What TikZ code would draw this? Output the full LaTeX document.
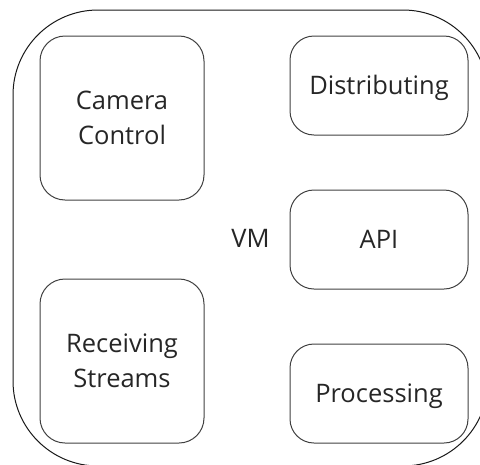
\documentclass[tikz,border=0pt]{standalone}
\usepackage{fontspec}
\setmainfont{Open Sans}
\begin{document}
\begin{tikzpicture}[x=1pt,y=-1pt,
  every node/.style={font=\fontsize{25.5}{35}\selectfont, text=black!85},
  outerbox/.style={draw=black!90, line width=1pt, rounded corners=85pt,
    minimum width=475pt, minimum height=456pt, inner sep=0pt, outer sep=0pt,
    text height=18.2pt, text depth=0pt},
  bigbox/.style={draw=black!75, line width=1pt, rounded corners=25pt,
    minimum width=164pt, minimum height=164pt, inner sep=0pt, align=center,
    text height=53.2pt, text depth=0pt},
  widebox/.style={draw=black!75, line width=1pt, rounded corners=24pt,
    minimum width=178pt, minimum height=99pt, inner sep=0pt,
    text height=18.2pt, text depth=0pt}]
\useasboundingbox (0,0) rectangle (480,464);
\clip (0,0) rectangle (480,464);
\node[outerbox] (vm) at (250.5,238) {VM};
\node[bigbox] (cam) at (122,118) {Camera\\Control};
\node[bigbox] (recv) at (122,361) {Receiving\\Streams};
\node[widebox] (dist) at (379,85.5) {Distributing};
\node[widebox] (api) at (379,239.5) {API};
\node[widebox] (proc) at (379,393.5) {Processing};
\end{tikzpicture}
\end{document}
